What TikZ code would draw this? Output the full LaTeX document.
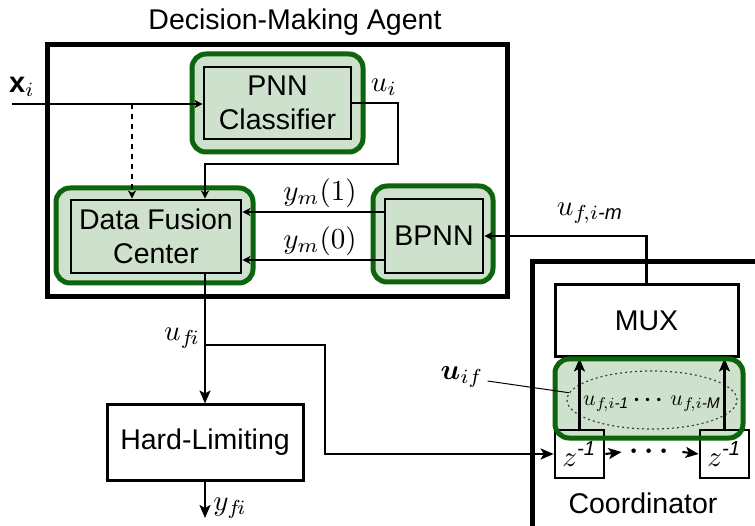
\documentclass[tikz,border=0pt]{standalone}
\usepackage{fontspec}
\setmainfont{Liberation Sans}
\usepackage{amsmath}
\usepackage{graphicx}
\usetikzlibrary{arrows.meta,shapes.geometric,calc}
\definecolor{gstroke}{RGB}{12,100,12}
\definecolor{gfill}{RGB}{206,225,205}
\newcommand{\mymath}[1]{\scalebox{2.9}{\fontsize{10}{12}\selectfont$#1$}}
\newcommand{\mymathsm}[1]{\scalebox{2.2}{\fontsize{10}{12}\selectfont$#1$}}
\tikzset{
  arr/.style={-{Stealth[length=13pt,width=11pt,inset=3pt]}, line width=2.1pt},
  sarr/.style={-{Stealth[length=8pt,width=8pt,inset=2pt]}, line width=2.1pt},
  greenbox/.style={draw=gstroke, fill=gfill, line width=5pt, rounded corners=14pt, inner sep=0pt},
  innerbox/.style={draw=black, line width=2.7pt, inner sep=0pt, align=center},
  plainbox/.style={draw=black, line width=3pt, inner sep=0pt, align=center, fill=white},
  bigframe/.style={draw=black, line width=5pt},
  mlab/.style={inner sep=0pt},
}
\begin{document}
\begin{tikzpicture}[x=1pt,y=-1pt, font=\fontsize{28.5}{36}\selectfont]
\useasboundingbox (0,0) rectangle (755,526);

% Decision-Making Agent frame
\node[inner sep=0pt] (title) at (295,22) {Decision-Making Agent};
\draw[bigframe] (47,45) rectangle (507,297);

% PNN classifier
\node[greenbox, minimum width=171, minimum height=98] (pnnG) at (277.5,103) {};
\node[innerbox, minimum width=147, minimum height=72] (pnn) at (277.5,103) {PNN\\[-2pt]Classifier};

% Data fusion center
\node[greenbox, minimum width=197, minimum height=95] (dfcG) at (154.5,235.5) {};
\node[innerbox, minimum width=170, minimum height=73] (dfc) at (156,236.5) {Data Fusion\\[-2pt]Center};

% BPNN
\node[greenbox, minimum width=120, minimum height=96] (bpG) at (433,234) {};
\node[innerbox, minimum width=98, minimum height=74] (bp) at (434,236) {BPNN};

% Coordinator frame
\draw[bigframe] (532,545) -- (532,262) -- (780,262);
\node[inner sep=0pt] (coordtxt) at (643,503) {Coordinator};

% MUX
\node[plainbox, minimum width=183, minimum height=72] (mux) at (646.5,321) {MUX};

% u_if green box (fill first)
\fill[gfill, rounded corners=14pt] (555,359) rectangle (743,438);

% delay boxes
\node[innerbox, minimum width=49, minimum height=48] (z1) at (579.5,454) {\mymath{z^{\textit{-1}}}};
\node[innerbox, minimum width=49, minimum height=48] (z2) at (724.5,454) {\mymath{z^{\textit{-1}}}};

% dotted ellipse and contents
\node[ellipse, draw=black!75, dash pattern=on 2pt off 3pt, line width=1.2pt, minimum width=170, minimum height=58] (ell) at (652,400) {};
\node[mlab] (useq) at (652,403) {\mymathsm{u_{f\!,i\textit{-1}}\,\boldsymbol{\cdots}\,u_{f\!,i\textit{-M}}}};

% arrows up to MUX
\draw[arr] (z1.north) -- (z1.north |- mux.south);
\draw[arr] (z2.north) -- (z2.north |- mux.south);

% green stroke on top
\draw[draw=gstroke, line width=5pt, rounded corners=14pt] (555,359) rectangle (743,438);

% chain between delays
\node[mlab, inner xsep=8pt] (cdots) at (652,452) {\mymath{\boldsymbol{\cdots}}};
\draw[arr] (z1.east) -- (cdots.west);
\draw[arr] (cdots.east) -- (z2.west);

% u_if label
\node[mlab] (uif) at (462,377) {\mymath{\boldsymbol{u}_{if}}};
\draw[line width=1pt] ([xshift=4pt,yshift=-4pt]uif.east) -- (ell.175);

% input x_i
\coordinate (xin) at (12,104);
\node[mlab] (xlab) at (22,87) {\mymath{\mathbf{x}_i}};
\draw[sarr] (xin) -- (xin -| pnn.west);

% dotted arrow to fusion center
\coordinate (dtop) at (132,104);
\draw[sarr, dash pattern=on 5pt off 5pt, line width=2.6pt] (dtop) -- (dtop |- dfc.north);

% u_i path
\coordinate (uiA) at (398,164);
\coordinate (uiB) at (205,164);
\node[mlab] (uilab) at (384,87) {\mymath{u_i}};
\draw[sarr] (pnn.east) -| (uiA) -- (uiB) -- (uiB |- dfc.north);

% y_m signals
\draw[sarr] ([yshift=24pt]bp.west) -- ([yshift=24pt]bp.west -| dfc.east);
\draw[sarr] ([yshift=-24pt]bp.west) -- ([yshift=-24pt]bp.west -| dfc.east);
\node[mlab] (ym1) at (320,193) {\mymath{y_m(1)}};
\node[mlab] (ym0) at (320,241) {\mymath{y_m(0)}};

% u_{f,i-m} feedback
\draw[sarr] (mux.north) |- (bp.east);
\node[mlab] (ufim) at (590,213) {\mymath{u_{f\!,i\textit{-m}}}};

% Hard-limiting
\node[plainbox, minimum width=196, minimum height=75] (hl) at (205,442.5) {Hard-Limiting};
\draw[arr] (hl.north |- dfc.south) -- (hl.north);
\node[mlab] (ufilab) at (182,338) {\mymath{u_{f\!i}}};

% branch to delay chain
\coordinate (br) at (205,345);
\coordinate (bx) at (325,400);
\draw[arr] (br) -| (bx) |- (z1.west);

% output
\coordinate (yout) at (205,518);
\draw[arr] (hl.south) -- (yout);
\node[mlab] (yfilab) at (230,508) {\mymath{y_{f\!i}}};
\end{tikzpicture}
\end{document}
